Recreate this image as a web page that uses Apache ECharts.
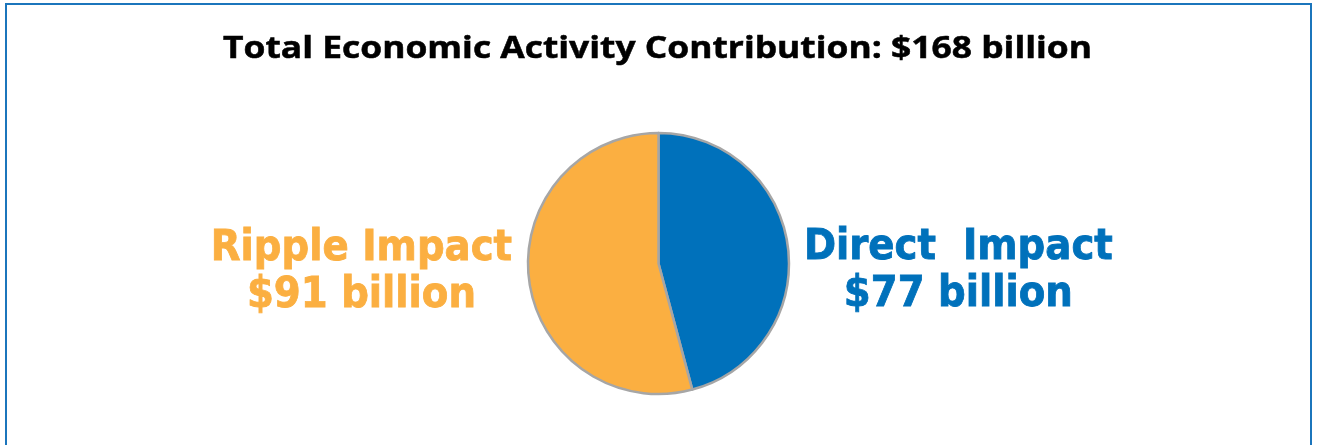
<!DOCTYPE html>
<html>
<head>
<meta charset="utf-8">
<script src="https://cdn.jsdelivr.net/npm/echarts@6/dist/echarts.min.js"></script>
<style>
  html, body { margin: 0; padding: 0; background: #ffffff; }
  #chart { width: 1317px; height: 445px; }
</style>
</head>
<body>
<div id="chart"></div>
<script>
// Contribution to total economic activity, in billions of dollars
const categories = ['Direct  Impact', 'Ripple Impact'];
const values = [77, 91];
const sliceColors = ['#0071BB', '#FBAF41'];
const totalLabel = 'Total Economic Activity Contribution: $168 billion';

// per-slice nudges applied to the outside labels
const labelShiftX = [0, -1];
const labelShiftY = [25, -8];

const chart = echarts.init(document.getElementById('chart'), null, { renderer: 'canvas' });

const option = {
  backgroundColor: '#ffffff',
  animation: false,
  graphic: [
    {
      type: 'rect',
      shape: { x: 6, y: 4, width: 1305, height: 520 },
      style: { fill: 'none', stroke: '#1B75BC', lineWidth: 2 },
      silent: true
    },
    {
      // heading, widened slightly to the proportions of a humanist bold face
      type: 'text',
      x: 657.5,
      y: 49,
      scaleX: 1.18,
      scaleY: 1,
      style: {
        text: totalLabel,
        font: 'bold 30px "Open Sans"',
        fill: '#000000',
        stroke: '#000000',
        lineWidth: 0.5,
        align: 'center',
        verticalAlign: 'middle'
      },
      silent: true
    }
  ],
  series: [
    {
      type: 'pie',
      center: [658.5, 263.5],
      radius: 130.5,
      startAngle: 90,
      clockwise: true,
      avoidLabelOverlap: false,
      data: categories.map((name, i) => ({
        name: name,
        value: values[i],
        itemStyle: { color: sliceColors[i] },
        label: { color: sliceColors[i], textBorderColor: sliceColors[i] }
      })),
      itemStyle: { borderColor: '#A6A6A6', borderWidth: 2.5 },
      label: {
        show: true,
        position: 'outside',
        formatter: p => p.name + '\n$' + p.value + ' billion',
        fontFamily: '"DejaVu Sans Condensed"',
        fontWeight: 'bold',
        fontSize: 43,
        lineHeight: 47,
        textBorderWidth: 0.8,
        distanceToLabelLine: 5
      },
      labelLine: { show: false, length: 0, length2: 11 },
      labelLayout: function (p) {
        const r = p.labelRect;
        const i = p.dataIndex;
        return {
          x: r.x + r.width / 2 + labelShiftX[i],
          y: r.y + r.height / 2 + labelShiftY[i],
          align: 'center',
          verticalAlign: 'middle'
        };
      },
      emphasis: { disabled: true }
    }
  ]
};

chart.setOption(option);
</script>
</body>
</html>
